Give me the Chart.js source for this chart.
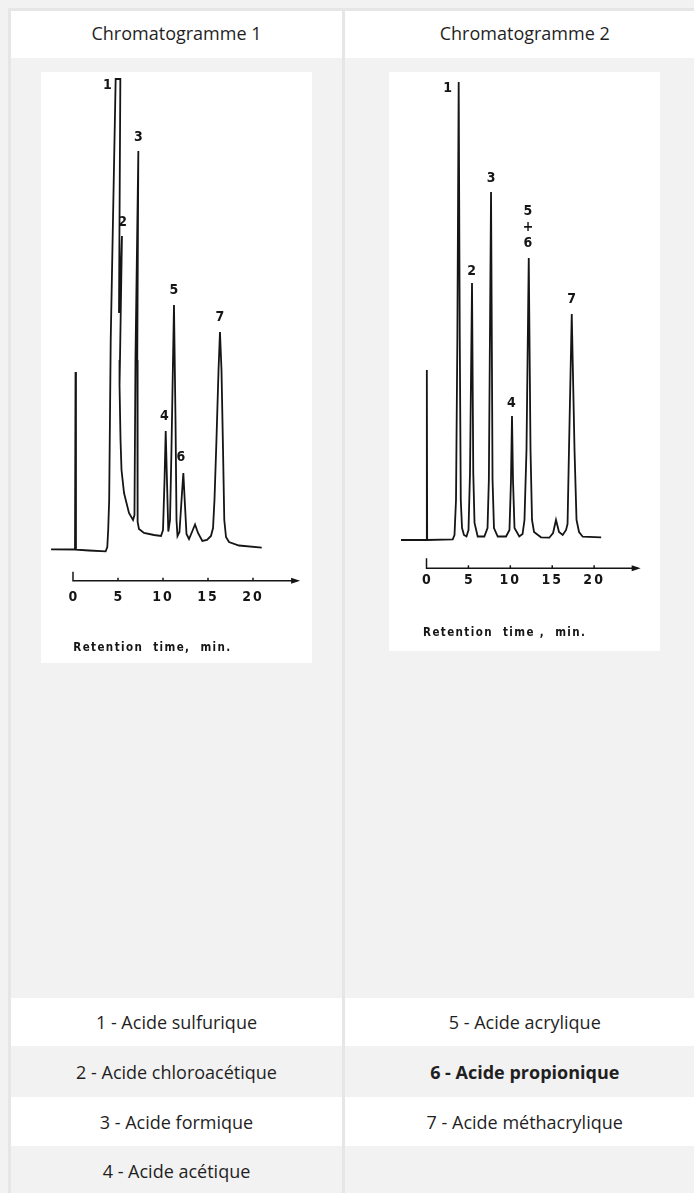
<!DOCTYPE html>
<html lang="fr">
<head>
<meta charset="utf-8">
<title>Chromatogrammes</title>
<script src="https://cdn.jsdelivr.net/npm/chart.js@4.4.1/dist/chart.umd.min.js"></script>
<style>
  html, body { margin: 0; padding: 0; background: #f2f2f2; overflow: hidden; }
  table {
    position: absolute; left: 8px; top: 8px;
    border-collapse: collapse; table-layout: fixed; width: 695px;
    font-family: "Open Sans", "Noto Sans", sans-serif; font-size: 18px; color: #1f1f1f;
    border-top: 3px solid #e6e6e6;
  }
  td { border-left: 3px solid #e6e6e6; padding: 0; text-align: center; vertical-align: middle; }
  tr.head td { background: #fff; height: 44px; padding-bottom: 3px; }
  tr.pics td { background: #f2f2f2; height: 940px; vertical-align: top; }
  tr.w td { background: #fff; }
  tr.g td { background: #f2f2f2; }
  .pic { background: #fff; margin: 14px auto 0; position: relative; }
  b { font-weight: 700; }
</style>
</head>
<body>
<table>
  <colgroup><col style="width:334px"><col style="width:361px"></colgroup>
  <tr class="head"><td>Chromatogramme 1</td><td>Chromatogramme 2</td></tr>
  <tr class="pics">
    <td><div class="pic" style="width:271px;height:591px"><canvas id="chrom1"></canvas></div></td>
    <td><div class="pic" style="width:271px;height:579px"><canvas id="chrom2"></canvas></div></td>
  </tr>
  <tr class="w" style="height:48px"><td>1 - Acide sulfurique</td><td>5 - Acide acrylique</td></tr>
  <tr class="g" style="height:51px"><td>2 - Acide chloroacétique</td><td><b>6 - Acide propionique</b></td></tr>
  <tr class="w" style="height:49px"><td>3 - Acide formique</td><td>7 - Acide méthacrylique</td></tr>
  <tr class="g" style="height:49px"><td>4 - Acide acétique</td><td></td></tr>
</table>

<script>
/* Two scanned chromatograms redrawn as line traces.
   x = retention time (min), y = detector response (arbitrary units, baseline = 0). */

var TIME_1 = [-2.44, 0.22, 0.28, 0.33, 1.78, 3.63, 3.81, 3.91, 4.02, 4.19, 4.74, 5.26, 5.11, 5.44, 5.22, 5.17,
  5.28, 5.39, 5.67, 6.22, 6.67, 6.83, 6.94, 7.26, 7.14, 7.18, 7.33, 7.89, 9.0, 9.78, 10.0, 10.17, 10.3, 10.44,
  10.59, 10.78, 10.94, 11.22, 11.39, 11.5, 11.61, 11.83, 12.06, 12.26, 12.44, 12.61, 12.89, 13.22, 13.56, 13.89,
  14.37, 14.89, 15.33, 15.56, 15.72, 15.94, 16.17, 16.33, 16.5, 16.67, 16.81, 17.0, 17.33, 18.44, 20.97];
var SIGNAL_1 = [1.7, 1.5, 179, 1.4, 0.5, -0.3, 4, 21, 51, 211, 472, 472, 238, 315, 191, 166,
  111, 81, 58, 38, 31, 36, 191, 400, 191, 29, 22, 18, 16, 15, 21, 71, 120, 71,
  19.5, 31, 101, 246, 131, 31, 15, 19, 51, 78, 46, 17, 12, 19, 26.5, 18,
  10, 11, 15, 23, 51, 111, 181, 219, 181, 101, 31, 14, 9, 5.5, 3.3];

var TIME_2 = [-3.04, 0, 0.04, 0.08, 3.13, 3.34, 3.52, 3.68, 3.84, 3.97, 4.09, 4.24, 4.47, 4.77, 5.01, 5.19,
  5.43, 5.58, 5.73, 6.11, 6.9, 7.28, 7.44, 7.7, 7.88, 8.05, 8.5, 9.49, 9.9, 10.08, 10.2, 10.32, 10.5, 11.07,
  11.46, 11.69, 11.93, 12.2, 12.41, 12.59, 12.83, 13.66, 14.65, 15.1, 15.45, 15.81, 16.25, 16.65, 16.83, 17.0,
  17.33, 17.66, 17.9, 18.2, 18.64, 20.84];
var SIGNAL_2 = [0, 0, 170, 0, 0.7, 5, 40, 200, 458, 200, 40, 12, 5, 3.5, 10, 67,
  257, 67, 17, 3.5, 3.5, 12, 60, 348, 60, 12, 3.5, 3.5, 10, 60, 124, 60, 12, 3.5,
  6, 20, 90, 282, 90, 20, 8, 2.7, 2.3, 7, 20, 8, 5, 10, 16, 90,
  226, 90, 20, 8, 3.3, 2.7];

// peak numbers and where they sit on the page (time, response)
var PEAK_TEXT_1 = ["1", "2", "3", "4", "5", "6", "7"];
var PEAK_T_1 = [3.81, 5.52, 7.26, 10.15, 11.22, 12.0, 16.33];
var PEAK_V_1 = [466, 329, 414, 135, 261, 94, 234];

var PEAK_TEXT_2 = ["1", "2", "3", "4", "5", "+", "6", "7"];
var PEAK_T_2 = [2.53, 5.39, 7.7, 10.12, 12.11, 12.11, 12.11, 17.33];
var PEAK_V_2 = [452, 269, 362, 137, 329, 313, 297, 241];

var TIME_TICKS = [0, 5, 10, 15, 20];
var AXIS_TITLE = "Retention  time,  min.";
var AXIS_TITLE_2 = "Retention  time ,  min.";

var INK = "#151515";
var SCAN_FONT = "'DejaVu Sans Condensed', 'Liberation Sans Narrow', sans-serif";

function points(ts, vs) {
  return ts.map(function (t, i) { return { x: t, y: vs[i] }; });
}

// time axis + annotations drawn through the chart's own scales
var scanDecor = {
  id: "scanDecor",
  afterDatasetsDraw: function (chart, args, o) {
    var ctx = chart.ctx, sx = chart.scales.x, sy = chart.scales.y;
    var x0 = sx.getPixelForValue(0), x1 = sx.getPixelForValue(o.axisEnd);
    var ya = sy.getPixelForValue(o.axisAt);
    ctx.save();
    ctx.strokeStyle = INK;
    ctx.fillStyle = INK;
    ctx.lineWidth = 1.5;
    ctx.beginPath();
    ctx.moveTo(x0, ya - o.startTick);
    ctx.lineTo(x0, ya);
    ctx.lineTo(x1, ya);
    ctx.stroke();
    ctx.beginPath();
    ctx.moveTo(x1 + 3, ya);
    ctx.lineTo(x1 - 6, ya - 3);
    ctx.lineTo(x1 - 6, ya + 3);
    ctx.closePath();
    ctx.fill();
    TIME_TICKS.forEach(function (t) {
      if (t === 0) return;
      var x = sx.getPixelForValue(t);
      ctx.beginPath();
      ctx.moveTo(x, ya);
      ctx.lineTo(x, ya - 3);
      ctx.stroke();
    });
    ctx.textAlign = "center";
    ctx.textBaseline = "middle";
    ctx.font = "bold 14px " + SCAN_FONT;
    var yl = sy.getPixelForValue(o.tickLabelAt);
    TIME_TICKS.forEach(function (t) {
      var s = String(t);
      ctx.letterSpacing = s.length > 1 ? "2px" : "0px";
      ctx.fillText(s, sx.getPixelForValue(t), yl);
    });
    o.peakText.forEach(function (s, i) {
      ctx.letterSpacing = "0px";
      ctx.fillText(s, sx.getPixelForValue(o.peakT[i]), sy.getPixelForValue(o.peakV[i]));
    });
    ctx.font = "bold 11.5px " + SCAN_FONT;
    ctx.letterSpacing = "1.4px";
    ctx.fillText(o.title, sx.getPixelForValue(o.titleT), sy.getPixelForValue(o.titleV));
    ctx.restore();
  }
};

function chrom(id, data, range, decor) {
  return new Chart(document.getElementById(id), {
    type: "line",
    data: {
      datasets: [{
        data: data,
        borderColor: INK,
        borderWidth: 1.8,
        pointRadius: 0,
        tension: 0,
        fill: false
      }]
    },
    options: {
      responsive: true, maintainAspectRatio: false, animation: false,
      layout: { padding: 0 },
      plugins: { legend: { display: false }, tooltip: { enabled: false }, scanDecor: decor },
      scales: {
        x: { type: "linear", display: false, min: range[0], max: range[1] },
        y: { type: "linear", display: false, min: range[2], max: range[3] }
      }
    },
    plugins: [scanDecor]
  });
}

chrom("chrom1", points(TIME_1, SIGNAL_1), [-3.556, 26.556, -112, 479], {
  axisAt: -29.7, axisEnd: 24.9, startTick: 9, tickLabelAt: -46,
  title: AXIS_TITLE, titleT: 8.83, titleV: -97,
  peakText: PEAK_TEXT_1, peakT: PEAK_T_1, peakV: PEAK_V_1
});

chrom("chrom2", points(TIME_2, SIGNAL_2), [-4.475, 27.86, -111, 468], {
  axisAt: -28.3, axisEnd: 25.2, startTick: 10, tickLabelAt: -40.7,
  title: AXIS_TITLE_2, titleT: 9.33, titleV: -93.3,
  peakText: PEAK_TEXT_2, peakT: PEAK_T_2, peakV: PEAK_V_2
});
</script>
</body>
</html>
